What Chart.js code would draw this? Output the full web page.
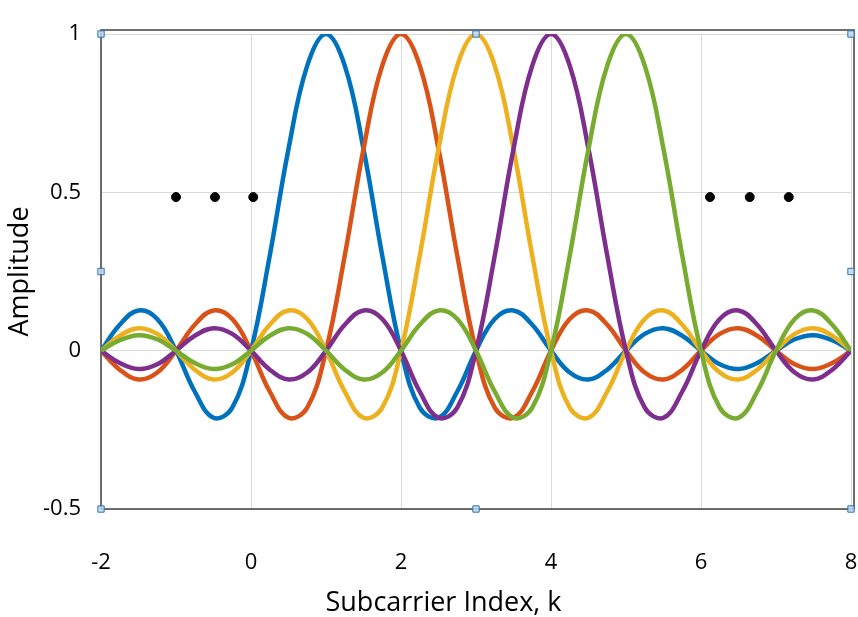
<!DOCTYPE html>
<html>
<head>
<meta charset="utf-8">
<script src="https://cdn.jsdelivr.net/npm/chart.js@4"></script>
<style>
  html, body { margin: 0; padding: 0; background: #fff; overflow: hidden; }
  #wrap { width: 858px; height: 617px; }
</style>
</head>
<body>
<div id="wrap"><canvas id="myChart"></canvas></div>
<script>
// subcarrier index axis (sample points)
var kValues = [-2, -1.75, -1.5, -1.25, -1, -0.75, -0.5, -0.25, 0, 0.25, 0.5, 0.75, 1, 1.25, 1.5, 1.75,
  2, 2.25, 2.5, 2.75, 3, 3.25, 3.5, 3.75, 4, 4.25, 4.5, 4.75, 5, 5.25, 5.5, 5.75,
  6, 6.25, 6.5, 6.75, 7, 7.25, 7.5, 7.75, 8];

// amplitude of each subcarrier
var sub1 = [0, 0.082, 0.127, 0.100, 0, -0.129, -0.212, -0.180, 0, 0.300, 0.637, 0.900, 1, 0.900, 0.637, 0.300,
  0, -0.180, -0.212, -0.129, 0, 0.100, 0.127, 0.082, 0, -0.069, -0.091, -0.060, 0, 0.053, 0.071, 0.047,
  0, -0.043, -0.058, -0.039, 0, 0.036, 0.049, 0.033, 0];
var sub2 = [0, -0.060, -0.091, -0.069, 0, 0.082, 0.127, 0.100, 0, -0.129, -0.212, -0.180, 0, 0.300, 0.637, 0.900,
  1, 0.900, 0.637, 0.300, 0, -0.180, -0.212, -0.129, 0, 0.100, 0.127, 0.082, 0, -0.069, -0.091, -0.060,
  0, 0.053, 0.071, 0.047, 0, -0.043, -0.058, -0.039, 0];
var sub3 = [0, 0.047, 0.071, 0.053, 0, -0.060, -0.091, -0.069, 0, 0.082, 0.127, 0.100, 0, -0.129, -0.212, -0.180,
  0, 0.300, 0.637, 0.900, 1, 0.900, 0.637, 0.300, 0, -0.180, -0.212, -0.129, 0, 0.100, 0.127, 0.082,
  0, -0.069, -0.091, -0.060, 0, 0.053, 0.071, 0.047, 0];
var sub4 = [0, -0.039, -0.058, -0.043, 0, 0.047, 0.071, 0.053, 0, -0.060, -0.091, -0.069, 0, 0.082, 0.127, 0.100,
  0, -0.129, -0.212, -0.180, 0, 0.300, 0.637, 0.900, 1, 0.900, 0.637, 0.300, 0, -0.180, -0.212, -0.129,
  0, 0.100, 0.127, 0.082, 0, -0.069, -0.091, -0.060, 0];
var sub5 = [0, 0.033, 0.049, 0.036, 0, -0.039, -0.058, -0.043, 0, 0.047, 0.071, 0.053, 0, -0.060, -0.091, -0.069,
  0, 0.082, 0.127, 0.100, 0, -0.129, -0.212, -0.180, 0, 0.300, 0.637, 0.900, 1, 0.900, 0.637, 0.300,
  0, -0.180, -0.212, -0.129, 0, 0.100, 0.127, 0.082, 0];

// the "..." markers
var dotsX = [-1, -0.48, 0.03, 6.12, 6.65, 7.17];
var dotsY = [0.485, 0.485, 0.485, 0.485, 0.485, 0.485];

// selection handles seen on the plot area
var handleX = [-2, -2, -2, 3, 3, 8, 8, 8];
var handleY = [1, 0.25, -0.5, 1, -0.5, 1, 0.25, -0.5];

var xTicks = [-2, 0, 2, 4, 6, 8];
var yTicks = [-0.5, 0, 0.5, 1];

function pts(xs, ys) {
  return xs.map(function (x, i) { return { x: x, y: ys[i] }; });
}

function curve(data, color, order) {
  return {
    data: pts(kValues, data),
    borderColor: color,
    borderWidth: 4.5,
    pointRadius: 0,
    fill: false,
    showLine: true,
    tension: 0.4,
    order: order
  };
}

// frame round the plot area, and nudge the x title like the original
var frame = {
  id: 'frame',
  afterLayout: function (chart) {
    chart.titleBlock.left = 36;
  },
  beforeDatasetsDraw: function (chart) {
    var a = chart.chartArea, c = chart.ctx;
    c.save();
    c.strokeStyle = '#404040';
    c.lineWidth = 1.5;
    c.strokeRect(a.left, a.top - 4, a.right - a.left + 3, a.bottom - a.top + 4);
    c.restore();
  }
};

var ctx = document.getElementById('myChart').getContext('2d');
new Chart(ctx, {
  type: 'scatter',
  data: {
    datasets: [
      curve(sub1, '#0072BD', 5),
      curve(sub2, '#D95319', 4),
      curve(sub3, '#EDB120', 3),
      curve(sub4, '#7E2F8E', 2),
      curve(sub5, '#77AC30', 1),
      {
        data: pts(dotsX, dotsY),
        pointRadius: 4.5,
        backgroundColor: '#000',
        borderColor: '#000',
        showLine: false,
        order: 0
      },
      {
        data: pts(handleX, handleY),
        pointStyle: 'rect',
        pointRadius: 4.5,
        backgroundColor: 'rgba(189, 215, 238, 0.85)',
        borderColor: '#2e75b6',
        borderWidth: 1,
        showLine: false,
        clip: false,
        order: -1
      }
    ]
  },
  options: {
    responsive: true,
    maintainAspectRatio: false,
    animation: false,
    layout: { padding: { top: 34, right: 7, left: 0, bottom: 0 } },
    plugins: {
      legend: { display: false },
      tooltip: { enabled: false },
      title: {
        display: true,
        position: 'bottom',
        fullSize: true,
        text: 'Subcarrier Index, k',
        color: '#000',
        font: { family: 'Open Sans', size: 27, weight: 'normal', lineHeight: 1 },
        padding: { top: 0, bottom: 0 }
      }
    },
    scales: {
      x: {
        type: 'linear',
        min: -2,
        max: 8,
        afterFit: function (s) { s.height = 81; },
        afterBuildTicks: function (s) { s.ticks = xTicks.map(function (v) { return { value: v }; }); },
        border: { display: false },
        grid: { color: '#d9d9d9', drawTicks: true, tickLength: 41, tickColor: 'rgba(0,0,0,0)' },
        ticks: {
          padding: 0,
          color: '#000',
          font: { family: 'Open Sans', size: 22 },
          callback: function (v) { return String(v); }
        }
      },
      y: {
        min: -0.5,
        max: 1,
        afterFit: function (s) { s.width = 101; },
        afterBuildTicks: function (s) { s.ticks = yTicks.map(function (v) { return { value: v }; }); },
        border: { display: false },
        grid: { color: '#d9d9d9', drawTicks: false },
        ticks: {
          padding: 20,
          color: '#000',
          font: { family: 'Open Sans', size: 22 },
          callback: function (v) { return String(v); }
        },
        title: {
          display: true,
          text: 'Amplitude',
          color: '#000',
          font: { family: 'Open Sans', size: 27 },
          padding: { top: 4, bottom: 0 }
        }
      }
    }
  },
  plugins: [frame]
});
</script>
</body>
</html>
